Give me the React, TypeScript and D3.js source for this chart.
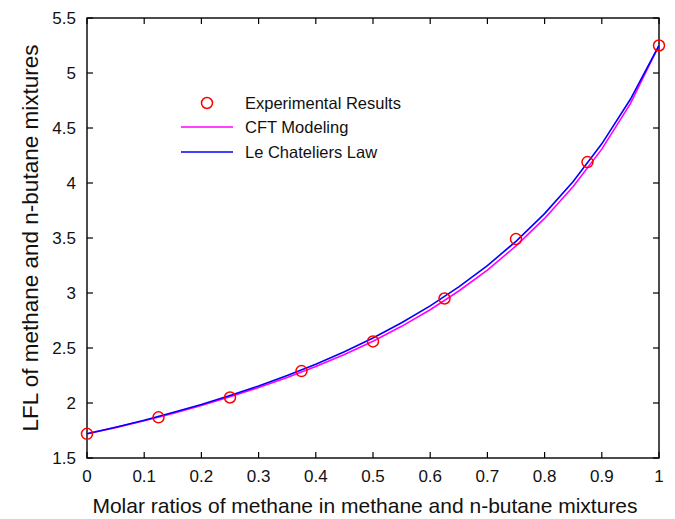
import React from "react";
import * as d3 from "d3";

const expX = [0, 0.125, 0.25, 0.375, 0.5, 0.625, 0.75, 0.875, 1];
const expY = [1.72, 1.87, 2.05, 2.29, 2.56, 2.95, 3.49, 4.19, 5.25];

const lineX = [0, 0.05, 0.1, 0.15, 0.2, 0.25, 0.3, 0.35, 0.4, 0.45, 0.5, 0.55, 0.6, 0.65, 0.7, 0.75, 0.8, 0.85, 0.9, 0.95, 1];
const leChatelier = [1.72, 1.78, 1.844, 1.913, 1.987, 2.068, 2.155, 2.249, 2.353, 2.466, 2.591, 2.729, 2.883, 3.055, 3.249, 3.47, 3.722, 4.014, 4.356, 4.761, 5.25];
const cftModel = [1.72, 1.776, 1.838, 1.905, 1.977, 2.056, 2.14, 2.231, 2.331, 2.441, 2.562, 2.697, 2.848, 3.018, 3.208, 3.428, 3.678, 3.968, 4.308, 4.722, 5.25];

const xTicks = [0, 0.1, 0.2, 0.3, 0.4, 0.5, 0.6, 0.7, 0.8, 0.9, 1];
const yTicks = [1.5, 2, 2.5, 3, 3.5, 4, 4.5, 5, 5.5];

const legendLabels = ["Experimental Results", "CFT Modeling", "Le Chateliers Law"];

export default function App() {
  const W = 675, H = 519;
  const L = 87, R = 659, T = 18, B = 458;
  const x = d3.scaleLinear().domain([0, 1]).range([L, R]);
  const y = d3.scaleLinear().domain([1.5, 5.5]).range([B, T]);
  const line = d3.line<number>().x((_, i) => x(lineX[i])).y((d) => y(d));
  const font = "Liberation Sans, Arial, Helvetica, sans-serif";
  const tk = 6;
  const fmt = (v: number) => String(+v.toFixed(1));
  return (
    <svg width={W} height={H} style={{ position: "absolute", left: 0, top: 0, background: "#fff" }} fontFamily={font}>
      <rect x={0} y={0} width={W} height={H} fill="#fff" />
      {xTicks.map((t) => (
        <g key={"x" + t}>
          <line x1={x(t)} x2={x(t)} y1={B} y2={B - tk} stroke="#000" strokeWidth={1.2} />
          <line x1={x(t)} x2={x(t)} y1={T} y2={T + tk} stroke="#000" strokeWidth={1.2} />
          <text x={x(t)} y={482} textAnchor="middle" fontSize={17} fill="#111">{fmt(t)}</text>
        </g>
      ))}
      {yTicks.map((t) => (
        <g key={"y" + t}>
          <line x1={L} x2={L + tk} y1={y(t)} y2={y(t)} stroke="#000" strokeWidth={1.2} />
          <line x1={R} x2={R - tk} y1={y(t)} y2={y(t)} stroke="#000" strokeWidth={1.2} />
          <text x={76} y={y(t) + 6} textAnchor="end" fontSize={17} fill="#111">{fmt(t)}</text>
        </g>
      ))}
      <rect x={L} y={T} width={R - L} height={B - T} fill="none" stroke="#000" strokeWidth={1.4} />
      <path d={line(cftModel) || ""} fill="none" stroke="#ff00ff" strokeWidth={1.6} />
      <path d={line(leChatelier) || ""} fill="none" stroke="#0000ff" strokeWidth={1.6} />
      {expX.map((v, i) => (
        <circle key={i} cx={x(v)} cy={y(expY[i])} r={5.5} fill="none" stroke="#ff0000" strokeWidth={1.5} />
      ))}
      <g fontSize={16.5} fill="#111">
        <circle cx={207} cy={103} r={5.5} fill="none" stroke="#ff0000" strokeWidth={1.5} />
        <text x={245} y={109}>{legendLabels[0]}</text>
        <line x1={181} x2={233} y1={127} y2={127} stroke="#ff00ff" strokeWidth={1.6} />
        <text x={245} y={133}>{legendLabels[1]}</text>
        <line x1={181} x2={233} y1={152} y2={152} stroke="#0000ff" strokeWidth={1.6} />
        <text x={245} y={158}>{legendLabels[2]}</text>
      </g>
      <text x={365} y={513} textAnchor="middle" fontSize={21} fill="#111">
        Molar ratios of methane in methane and n-butane mixtures
      </text>
      <text transform={`translate(38,${(T + B) / 2}) rotate(-90)`} textAnchor="middle" fontSize={22.5} fill="#111">
        LFL of methane and n-butane mixtures
      </text>
    </svg>
  );
}
